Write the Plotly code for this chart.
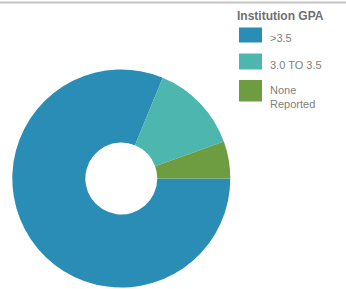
import plotly.graph_objects as go

categories = [">3.5", "3.0 TO 3.5", "None Reported"]
legend_labels = [">3.5", "3.0 TO 3.5", "None<br>Reported"]
values = [81.2, 13.3, 5.5]
colors = ["#2A8DB5", "#4DB7AF", "#6E9C41"]
legend_title = "Institution GPA"

W, H = 346, 289

def px(x):
    return x / W

def py(y):
    return 1 - y / H

cx, cy, r = 121.3, 178.5, 109

fig = go.Figure(go.Pie(
    labels=categories,
    values=values,
    marker=dict(colors=colors, line=dict(width=0)),
    hole=0.33,
    sort=False,
    direction="clockwise",
    rotation=90,
    textinfo="none",
    hoverinfo="label+percent",
    domain=dict(x=[px(cx - r), px(cx + r)], y=[py(cy + r), py(cy - r)]),
))

shapes = [dict(type="line", xref="paper", yref="paper", x0=0, x1=1, y0=py(2.5), y1=py(2.5),
               line=dict(color="#C4C4C4", width=2), layer="above")]
annotations = [dict(text="<b>" + legend_title + "</b>", xref="paper", yref="paper",
                    x=px(235), y=py(15.5), xanchor="left", yanchor="middle", showarrow=False,
                    font=dict(family="Liberation Sans, Arial", size=12, color="#707070"))]

sw_tops = [27.5, 53.5, 80]
sw_bots = [42.5, 69.5, 101.5]
text_y = [38, 64.5, 97]
for i, lab in enumerate(legend_labels):
    shapes.append(dict(type="rect", xref="paper", yref="paper",
                       x0=px(239), x1=px(262), y0=py(sw_bots[i]), y1=py(sw_tops[i]),
                       fillcolor=colors[i], line=dict(width=0)))
    annotations.append(dict(text=lab, xref="paper", yref="paper", x=px(268), y=py(text_y[i]),
                            xanchor="left", yanchor="middle", align="left", showarrow=False,
                            font=dict(family="Liberation Sans, Arial", size=11, color="#808080")))

fig.update_layout(
    width=W, height=H,
    margin=dict(l=0, r=0, t=0, b=0),
    paper_bgcolor="white", plot_bgcolor="white",
    showlegend=False,
    shapes=shapes, annotations=annotations,
)

fig.write_html("out.html", config={"displayModeBar": False},
               post_script="document.body.style.margin='0';document.body.style.overflow='hidden';")
